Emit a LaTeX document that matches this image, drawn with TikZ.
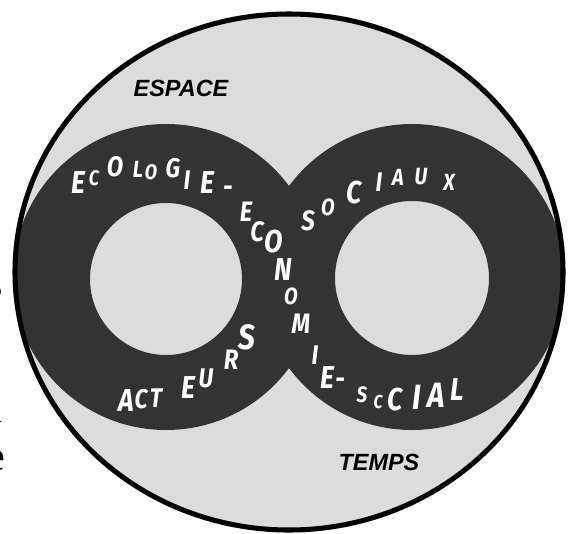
\documentclass[tikz,border=0pt]{standalone}
\usepackage{fontspec}
\setmainfont{Liberation Serif}
\newfontfamily\zonefont{Liberation Sans}
\newfontfamily\ringfont{Fira Sans}
\definecolor{discgray}{HTML}{DCDCDC}
\definecolor{bandgray}{HTML}{333333}

\begin{document}
\begin{tikzpicture}[
    x=0.03cm, y=-0.03cm,
    ringtxt/.style={text=white, inner sep=0pt, xscale=0.85, transform shape},
    zone/.style={inner sep=0pt, font=\zonefont\bfseries\itshape\fontsize{20}{20}\selectfont},
    cut/.style={inner sep=0pt, anchor=base east, font=\fontsize{36}{36}\selectfont},
]
\useasboundingbox (0,0) rectangle (568,533);

% === Disc ===
\fill[discgray] (289,272) ellipse [x radius=274, y radius=258];

% === Figure eight: two rings ===
\fill[bandgray, even odd rule]
    (166,277) circle [radius=153] (166,279) circle [radius=76];
\fill[bandgray, even odd rule]
    (412,277) circle [radius=153] (412,278) circle [radius=77];

% Disc outline on top
\draw[line width=4.3pt] (289,272) ellipse [x radius=274, y radius=258];

% === Letters along the band ===
% ecologie - economie - social
\foreach \ch/\px/\py/\sz [count=\i] in {
    E/78/183/27, C/94/178/18, O/115/167/24, L/138/169/20, O/151/172/18,
    G/173/168/23, I/187/180/23, E/207/183/27, -/228/191/24,
    E/246/212/24, C/257/232/24, O/274/242/27, N/283/270/27,
    O/291/296/20, M/301/324/24, I/315/355/23, E/327/378/27,
    -/340/383/24, S/362/395/19, C/378/402/16, C/395/400/27,
    I/417/397/30, A/436/395/30, L/457/390/27}
    \node[ringtxt, font=\ringfont\bfseries\itshape\fontsize{\sz}{\sz}\selectfont]
        (eco-\i) at (\px,\py) {\ch};

% sociaux
\foreach \ch/\px/\py/\sz [count=\i] in {
    S/308/221/24, O/328/207/20, C/354/193/27, I/379/182/23,
    A/398/177/20, U/421/177/20, X/449/182/20}
    \node[ringtxt, font=\ringfont\bfseries\itshape\fontsize{\sz}{\sz}\selectfont]
        (soc-\i) at (\px,\py) {\ch};

% acteurs
\foreach \ch/\px/\py/\sz [count=\i] in {
    A/126/401/27, C/141/399/23, T/156/398/23, E/188/388/27,
    U/206/378/23, R/231/360/24, S/247/337/30}
    \node[ringtxt, font=\ringfont\bfseries\itshape\fontsize{\sz}{\sz}\selectfont]
        (act-\i) at (\px,\py) {\ch};

% === Space and time ===
\node[zone] (espace) at (181,88) {ESPACE};
\node[zone] (temps) at (379,462) {TEMPS};

% cut text at the left edge
\node[cut] (cut-s) at (3,297) {s};
\node[cut] (cut-n) at (3,422) {n};
\node[cut] (cut-e) at (5,470) {e};

\end{tikzpicture}
\end{document}
